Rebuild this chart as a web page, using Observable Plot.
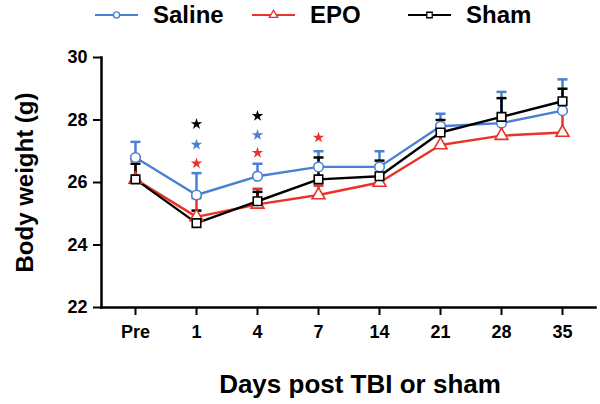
<!DOCTYPE html>
<html><head><meta charset="utf-8">
<script src="https://cdn.jsdelivr.net/npm/d3@7"></script>
<script src="https://cdn.jsdelivr.net/npm/@observablehq/plot@0.6"></script>
<style>
body{margin:0;background:#fff;font-family:'Liberation Sans',Arial,Helvetica,sans-serif;}
#wrap{width:600px;height:404px;position:relative;overflow:hidden;background:#fff}
#legend{position:relative;height:34px}
.item{position:absolute;top:0;height:30px;display:flex;align-items:center;font-weight:bold;font-size:24px;color:#000}
.item svg{margin-right:15px;overflow:visible}
#chart svg{display:block}
#xlabel{height:50px;box-sizing:border-box;padding-top:17px;padding-left:120px;text-align:center;font-weight:bold;font-size:26px;line-height:26px}
</style></head>
<body><div id="wrap"><div id="legend"></div><div id="chart"></div><div id="xlabel">Days post TBI or sham</div></div>
<script>
// ---- data ----
const days = ["Pre", "1", "4", "7", "14", "21", "28", "35"];
const groups = ["Saline", "EPO", "Sham"];
const colors = ["#4a7fd2", "#e8332b", "#000000"];
const symbols = ["circle", "triangle", "square"];
const yTicks = [22, 24, 26, 28, 30];

const salineMean = [26.8, 25.6, 26.2, 26.5, 26.5, 27.8, 27.9, 28.3];
const salineSem  = [0.5, 0.7, 0.4, 0.5, 0.5, 0.4, 1.0, 1.0];
const epoMean    = [26.1, 24.9, 25.3, 25.6, 26.0, 27.2, 27.5, 27.6];
const epoSem     = [0.6, 0.6, 0.5, 0.3, 0.2, 0.5, 0.6, 1.0];
const shamMean   = [26.1, 24.7, 25.4, 26.1, 26.2, 27.6, 28.1, 28.6];
const shamSem    = [0.5, 0.4, 0.3, 0.7, 0.5, 0.4, 0.6, 0.4];

const starDays   = ["1", "1", "1", "4", "4", "4", "7"];
const starGroups = ["Sham", "Saline", "EPO", "Sham", "Saline", "EPO", "EPO"];
const starLevels = [27.87, 27.21, 26.61, 28.13, 27.52, 26.95, 27.44];

// ---- tables ----
const means = [salineMean, epoMean, shamMean];
const sems = [salineSem, epoSem, shamSem];
const rows = groups.flatMap((g, i) => days.map((d, j) => ({group: g, day: d, mean: means[i][j], sem: sems[i][j]})));
const stars = starDays.map((d, i) => ({day: d, group: starGroups[i], y: starLevels[i]}));

const capSymbol = {draw(ctx) { ctx.moveTo(-5, 0); ctx.lineTo(5, 0); }};
const font = "'Liberation Sans', Arial, Helvetica, sans-serif";

const chart = Plot.plot({
  width: 600,
  height: 320,
  marginTop: 23,
  marginBottom: 47,
  marginLeft: 101,
  marginRight: 5,
  style: {fontFamily: font, fontWeight: "bold", background: "#fff", color: "#000"},
  x: {type: "point", domain: days, padding: 0.5, axis: null},
  y: {domain: [22, 30], axis: null},
  color: {domain: groups, range: colors},
  symbol: {domain: groups, range: symbols},
  marks: [
    Plot.axisY({ticks: yTicks, tickSize: 8, tickPadding: 6, fontSize: 18, strokeWidth: 2, tickFormat: d => d, label: null}),
    Plot.axisX({tickSize: 8, tickPadding: 10, fontSize: 18, strokeWidth: 2, label: null}),
    Plot.text(["Body weight (g)"], {frameAnchor: "left", textAnchor: "middle", lineAnchor: "middle", dx: -76, rotate: -90, fontSize: 24, fontWeight: "bold"}),
    Plot.frame({anchor: "left", strokeWidth: 2.5}),
    Plot.frame({anchor: "bottom", strokeWidth: 2.5}),
    Plot.line(rows, {x: "day", y: "mean", stroke: "group", strokeWidth: 2.4}),
    Plot.ruleX(rows, {x: "day", y1: "mean", y2: d => d.mean + d.sem, stroke: "group", strokeWidth: 2.5}),
    Plot.dot(rows, {x: "day", y: d => d.mean + d.sem, symbol: capSymbol, stroke: "group", strokeWidth: 2.5, fill: "none"}),
    Plot.dot(rows, {x: "day", y: "mean", symbol: "group", stroke: "group", fill: "white", strokeWidth: 1.6, r: 4.8}),
    Plot.dot(stars, {x: "day", y: "y", symbol: "star", fill: "group", stroke: "none", r: 3.6})
  ]
});
document.getElementById("chart").appendChild(chart);

// ---- legend ----
const legendLeft = [95, 252, 408];
const legend = document.getElementById("legend");
groups.forEach((g, i) => {
  const item = document.createElement("div");
  item.className = "item";
  item.style.left = legendLeft[i] + "px";
  const sym = {circle: d3.symbolCircle, triangle: d3.symbolTriangle, square: d3.symbolSquare}[symbols[i]];
  const path = d3.symbol(sym, 30)();
  item.innerHTML = `<svg width="43" height="14" viewBox="0 0 43 14">
    <line x1="0" x2="43" y1="7" y2="7" stroke="${colors[i]}" stroke-width="2.2"/>
    <path d="${path}" transform="translate(21.5,7)" fill="white" stroke="${colors[i]}" stroke-width="1.3"/>
  </svg><span>${g}</span>`;
  legend.appendChild(item);
});
</script>
</body></html>
